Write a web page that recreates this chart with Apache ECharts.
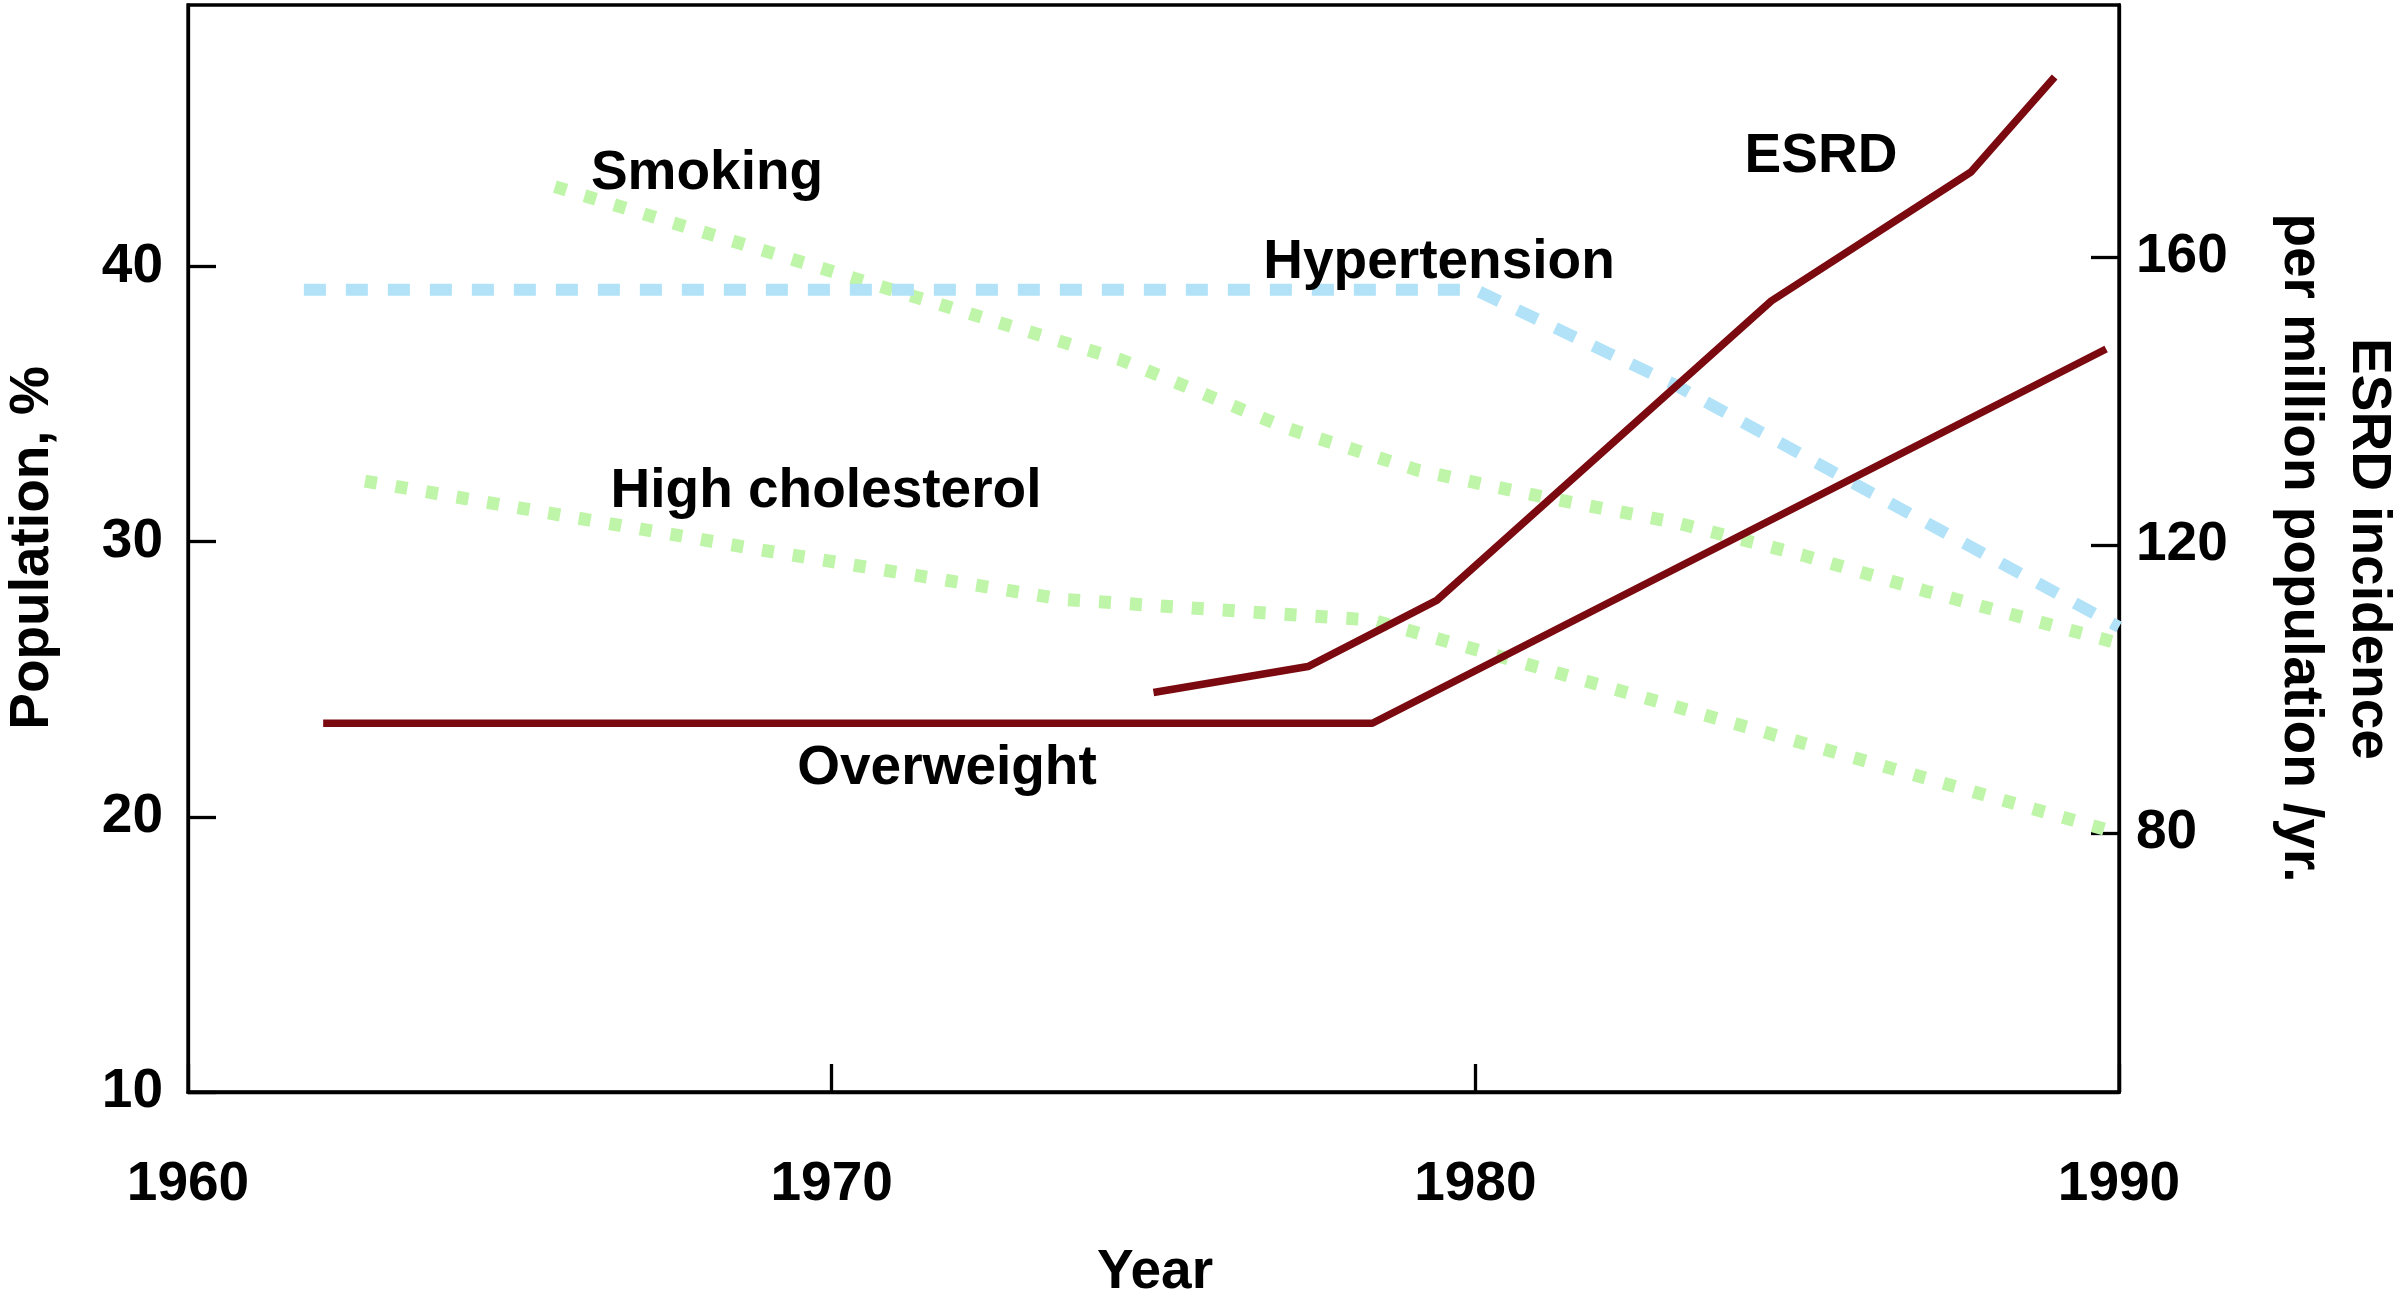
<!DOCTYPE html>
<html>
<head>
<meta charset="utf-8">
<script src="https://cdn.jsdelivr.net/npm/echarts@6/dist/echarts.min.js"></script>
<style>
  html, body { margin: 0; padding: 0; background: #ffffff; }
  #chart { width: 2396px; height: 1306px; }
</style>
</head>
<body>
<div id="chart"></div>
<script>
// ---- data ----
var xTicks = [1960, 1970, 1980, 1990];
var leftTicks = [10, 20, 30, 40];
var rightTicks = [80, 120, 160];

// [year, % population] (left axis)
var smoking = [[1965.7, 42.9], [1974.5, 36.6], [1977.1, 34.1], [1979.1, 32.6], [1981.1, 31.6],
               [1983.1, 30.7], [1985.1, 29.5], [1987.0, 28.2], [1990.0, 26.3]];
var highCholesterol = [[1962.75, 32.2], [1968.9, 29.7], [1973.6, 27.9], [1978.4, 27.15], [1990.0, 19.4]];
var hypertension = [[1961.8, 39.15], [1980.0, 39.15], [1983.1, 35.7], [1986.05, 31.9], [1990.0, 26.9]];
var overweight = [[1962.1, 23.4], [1978.4, 23.4], [1989.8, 37.0]];
// [year, ESRD incidence per million population /yr.] (right axis)
var esrd = [[1975.0, 99.5], [1977.4, 103.1], [1979.4, 112.3], [1984.6, 153.9], [1987.7, 171.8], [1989.0, 185.0]];

// ---- styles ----
var FONT = "'Liberation Sans', Arial, Helvetica, sans-serif";
var RED = '#7a0a10';
var GREEN = '#bff5a8';
var BLUE = '#b1e2f8';
var AXW = 3.3;

function inList(list) { return function (v) { return list.indexOf(v) >= 0 ? String(v) : ''; }; }

var labelStyle = { color: '#000', fontFamily: FONT, fontWeight: 'bold', fontSize: 55 };

function txt(text, x, y, rot) {
  return {
    type: 'text', x: x, y: y, rotation: rot || 0, z: 100,
    style: { text: text, fill: '#000', font: 'bold 55px ' + FONT, align: 'center', verticalAlign: 'middle' }
  };
}

var chart = echarts.init(document.getElementById('chart'), null, { renderer: 'canvas' });
chart.setOption({
  animation: false,
  backgroundColor: '#ffffff',
  grid: { left: 188, right: 277, top: 5, bottom: 214, show: true, borderColor: '#000', borderWidth: AXW, backgroundColor: 'transparent' },
  xAxis: {
    type: 'value', min: 1960, max: 1990, interval: 10,
    axisLine: { show: true, lineStyle: { color: '#000', width: AXW } },
    axisTick: { show: true, inside: true, length: 28, lineStyle: { color: '#000', width: AXW } },
    axisLabel: Object.assign({ margin: 65, formatter: inList(xTicks) }, labelStyle),
    splitLine: { show: false }
  },
  yAxis: [
    {
      type: 'value', position: 'left', min: 10, max: 49.5,
      axisLine: { show: true, lineStyle: { color: '#000', width: AXW } },
      axisTick: { show: true, inside: true, length: 28, customValues: leftTicks, lineStyle: { color: '#000', width: AXW } },
      axisLabel: Object.assign({ margin: 25, customValues: leftTicks, formatter: inList(leftTicks) }, labelStyle),
      splitLine: { show: false }
    },
    {
      type: 'value', position: 'right', min: 44, max: 195,
      axisLine: { show: true, lineStyle: { color: '#000', width: AXW } },
      axisTick: { show: true, inside: true, length: 28, customValues: rightTicks, lineStyle: { color: '#000', width: AXW } },
      axisLabel: Object.assign({ margin: 17, customValues: rightTicks, formatter: inList(rightTicks) }, labelStyle),
      splitLine: { show: false }
    }
  ],
  series: [
    { name: 'Smoking', type: 'line', yAxisIndex: 0, data: smoking, symbol: 'none', silent: true,
      lineStyle: { color: GREEN, width: 13, type: [12, 19], cap: 'butt' } },
    { name: 'High cholesterol', type: 'line', yAxisIndex: 0, data: highCholesterol, symbol: 'none', silent: true,
      lineStyle: { color: GREEN, width: 13, type: [12, 19], cap: 'butt' } },
    { name: 'Hypertension', type: 'line', yAxisIndex: 0, data: hypertension, symbol: 'none', silent: true,
      lineStyle: { color: BLUE, width: 12, type: [22, 20], cap: 'butt' } },
    { name: 'Overweight', type: 'line', yAxisIndex: 0, data: overweight, symbol: 'none', silent: true,
      lineStyle: { color: RED, width: 7.5 } },
    { name: 'ESRD', type: 'line', yAxisIndex: 1, data: esrd, symbol: 'none', silent: true,
      lineStyle: { color: RED, width: 7.5 } }
  ],
  graphic: [
    txt('Smoking', 707, 174),
    txt('ESRD', 1821, 157),
    txt('Hypertension', 1439, 263),
    txt('High cholesterol', 826, 492),
    txt('Overweight', 947, 769),
    txt('Year', 1155, 1273),
    txt('Population, %', 33, 548, Math.PI / 2),
    txt('ESRD incidence', 2368, 549, -Math.PI / 2),
    txt('per million population /yr.', 2300, 548, -Math.PI / 2)
  ]
});
</script>
</body>
</html>
